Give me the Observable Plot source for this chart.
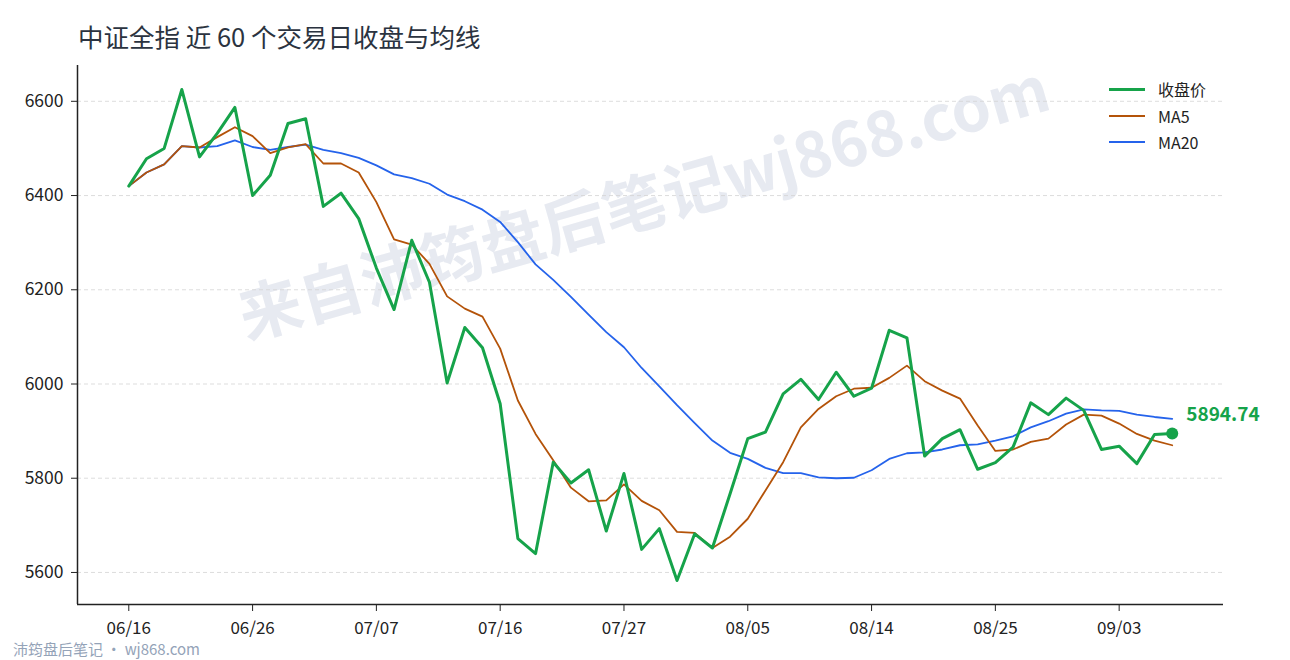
<!DOCTYPE html>
<html><head><meta charset="utf-8">
<script src="https://cdn.jsdelivr.net/npm/d3@7"></script>
<script src="https://cdn.jsdelivr.net/npm/@observablehq/plot@0.6"></script>
<style>
body{margin:0;background:#fff;font-family:"Noto Sans CJK SC","Noto Sans",sans-serif;}
#wrap{position:relative;width:1290px;height:660px;overflow:hidden;background:#fff;}
#title{position:absolute;left:78px;top:19px;font-size:25.5px;line-height:34px;color:#2b3340;white-space:nowrap;}
#chart{position:absolute;left:0;top:56px;}
#footer{position:absolute;left:13px;top:641px;font-size:15px;line-height:16px;color:#94a3b8;white-space:nowrap;}
.lg{position:absolute;left:1109px;height:20px;display:flex;align-items:center;font-size:16px;color:#222;}
.lg span.sw{display:inline-block;width:36px;margin-right:13px;}
</style>
</head><body>
<div id="wrap">
  <div id="title">中证全指 近 60 个交易日收盘与均线</div>
  <div id="chart"></div>
  <div id="legend"></div>
  <div id="footer">沛筠盘后笔记 · wj868.com</div>
</div>
<script>
const close = [6420, 6478, 6500, 6625, 6482, 6532, 6587, 6400, 6443, 6553,
  6563, 6377, 6405, 6351, 6246, 6158, 6305, 6216, 6002, 6120,
  6077, 5958, 5672, 5640, 5834, 5790, 5818, 5688, 5810, 5649,
  5693, 5583, 5682, 5652, 5767, 5884, 5898, 5979, 6010, 5967,
  6025, 5974, 5991, 6114, 6098, 5847, 5884, 5903, 5819, 5833,
  5866, 5960, 5935, 5970, 5944, 5861, 5868, 5831, 5893, 5894.74];
const ma5 = [6420, 6449, 6466, 6505, 6502, 6524, 6545, 6526, 6490, 6502,
  6509, 6468, 6468, 6449, 6386, 6307, 6296, 6255, 6186, 6160,
  6143, 6075, 5965, 5894, 5838, 5780, 5751, 5753, 5787, 5752,
  5732, 5686, 5684, 5652, 5676, 5714, 5774, 5834, 5908, 5947,
  5974, 5990, 5992, 6013, 6039, 6006, 5986, 5969, 5912, 5858,
  5861, 5877, 5884, 5914, 5935, 5933, 5916, 5894, 5880, 5870];
const ma20 = [6420, 6449, 6466, 6505, 6502, 6505, 6517, 6503, 6497, 6503,
  6508, 6497, 6490, 6480, 6464, 6445, 6437, 6425, 6402, 6388,
  6370, 6344, 6301, 6254, 6221, 6185, 6147, 6110, 6078, 6034,
  5995, 5955, 5917, 5880, 5854, 5841, 5822, 5811, 5811, 5802,
  5800, 5801, 5817, 5841, 5853, 5855, 5861, 5870, 5872, 5880,
  5889, 5908, 5921, 5937, 5946, 5944, 5943, 5935, 5930, 5926];
const tickIdx = [0, 7, 14, 21, 28, 35, 42, 49, 56];
const tickLabels = ["06/16", "06/26", "07/07", "07/16", "07/27", "08/05", "08/14", "08/25", "09/03"];
const yTicks = [5600, 5800, 6000, 6200, 6400, 6600];
const xDomain = [-2.9, 61.9];
const yDomain = [5532, 6676];
const seriesNames = ["收盘价", "MA5", "MA20"];
const seriesColors = ["#16a34a", "#b45309", "#2563eb"];
const seriesWidths = [3, 2, 2];
const watermark = ["来自沛筠盘后笔记wj868.com"];

const FONT = '"Noto Sans CJK SC","Noto Sans",sans-serif';

const chart = Plot.plot({
  width: 1290, height: 580,
  marginLeft: 77, marginRight: 67, marginTop: 9, marginBottom: 32,
  style: {fontFamily: FONT, fontSize: "17px", color: "#222", background: "transparent", overflow: "visible"},
  x: {type: "linear", domain: xDomain},
  y: {domain: yDomain},
  marks: [
    Plot.text(watermark, {frameAnchor: "middle", text: d => d, rotate: -16, fontSize: 63, fontWeight: "bold", fill: "#e7eaf1", dx: -6, dy: -130}),
    Plot.gridY(yTicks, {stroke: "#d4d4d4", strokeOpacity: 1, strokeDasharray: "4,3", strokeWidth: 0.8}),
    Plot.lineY(ma20, {stroke: seriesColors[2], strokeWidth: 1.8}),
    Plot.lineY(ma5, {stroke: seriesColors[1], strokeWidth: 1.8}),
    Plot.lineY(close, {stroke: seriesColors[0], strokeWidth: 3}),
    Plot.dot(close, Plot.selectLast({x: (d, i) => i, y: d => d, r: 6, fill: seriesColors[0]})),
    Plot.text(close, Plot.selectLast({x: (d, i) => i, y: d => d, text: d => d3.format(".2f")(d), dx: 14, dy: -19, textAnchor: "start", fontSize: 19, fontWeight: "bold", fill: seriesColors[0]})),
    Plot.axisY(yTicks, {tickFormat: d => String(d), tickSize: 6, tickPadding: 8, fontSize: 17.5, label: null}),
    Plot.axisX(tickIdx, {tickFormat: i => tickLabels[tickIdx.indexOf(i)], tickSize: 7, tickPadding: 10, fontSize: 17, label: null}),
    Plot.ruleX([xDomain[0]], {stroke: "#222", strokeWidth: 1.5}),
    Plot.ruleY([yDomain[0]], {stroke: "#222", strokeWidth: 1.5})
  ]
});
document.getElementById("chart").appendChild(chart);

const legend = document.getElementById("legend");
const legendTops = [79, 106, 132];
seriesNames.forEach((name, k) => {
  const item = document.createElement("div");
  item.className = "lg";
  item.style.top = legendTops[k] + "px";
  const sw = document.createElement("span");
  sw.className = "sw";
  sw.style.height = seriesWidths[k] + "px";
  sw.style.background = seriesColors[k];
  item.appendChild(sw);
  item.appendChild(document.createTextNode(name));
  legend.appendChild(item);
});
</script>
</body></html>
